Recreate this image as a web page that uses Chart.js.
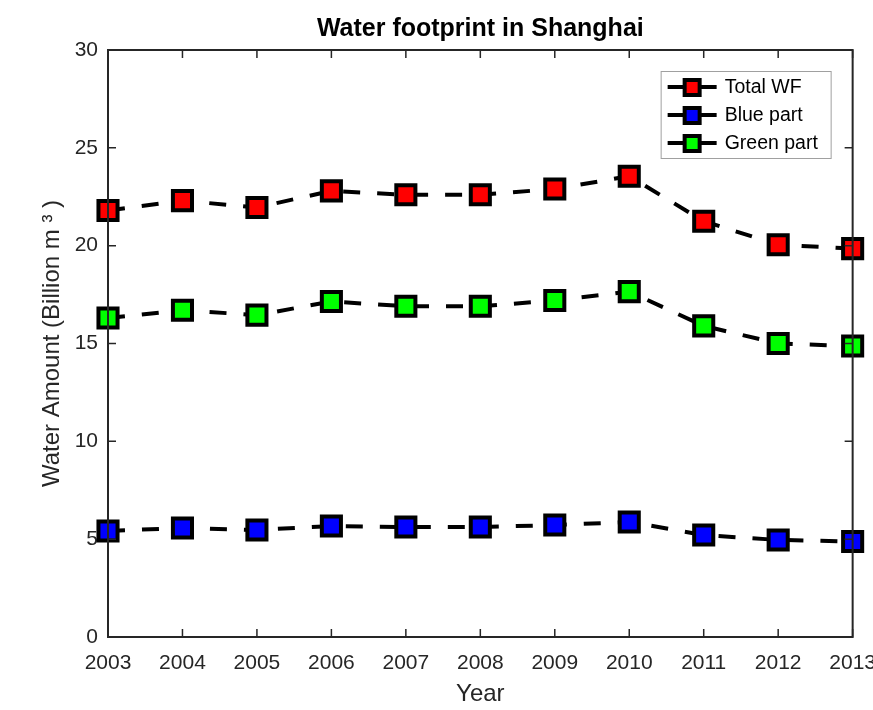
<!DOCTYPE html>
<html>
<head>
<meta charset="utf-8">
<script src="https://cdn.jsdelivr.net/npm/chart.js"></script>
<style>
  html, body { margin: 0; padding: 0; background: #fff; overflow: hidden; }
  #wrap { width: 873px; height: 710px; overflow: hidden; }
</style>
</head>
<body>
<div id="wrap"><canvas id="chart" width="890" height="710" style="width:890px;height:710px"></canvas></div>
<script>
// data
const years = ['2003', '2004', '2005', '2006', '2007', '2008', '2009', '2010', '2011', '2012', '2013'];
const totalWF = [21.8, 22.3, 21.95, 22.8, 22.6, 22.6, 22.9, 23.55, 21.25, 20.05, 19.85];
const bluePart = [5.42, 5.57, 5.47, 5.67, 5.62, 5.62, 5.72, 5.88, 5.21, 4.96, 4.88];
const greenPart = [16.3, 16.7, 16.45, 17.15, 16.9, 16.9, 17.2, 17.65, 15.9, 15.0, 14.87];
const yTicks = [0, 5, 10, 15, 20, 25, 30];

const seriesLabels = ['Total WF', 'Blue part', 'Green part'];
const seriesColors = ['#ff0000', '#0000ff', '#00ff00'];

const TICK = 8;

// MATLAB-like box with inward ticks on all sides
const boxPlugin = {
  id: 'box',
  afterDatasetsDraw(chart) {
    const { ctx, chartArea: a, scales } = chart;
    ctx.save();
    ctx.strokeStyle = '#262626';
    ctx.lineWidth = 1.5;
    ctx.beginPath();
    scales.x.ticks.forEach((t, i) => {
      const px = scales.x.getPixelForTick(i);
      ctx.moveTo(px, a.bottom); ctx.lineTo(px, a.bottom - TICK);
      ctx.moveTo(px, a.top); ctx.lineTo(px, a.top + TICK);
    });
    scales.y.ticks.forEach(t => {
      const py = scales.y.getPixelForValue(t.value);
      ctx.moveTo(a.left, py); ctx.lineTo(a.left + TICK, py);
      ctx.moveTo(a.right, py); ctx.lineTo(a.right - TICK, py);
    });
    ctx.stroke();
    ctx.lineWidth = 2;
    ctx.strokeRect(a.left, a.top, a.right - a.left, a.bottom - a.top);
    ctx.restore();
  },
  afterDraw(chart) {
    // legend inside the plot, top right
    const { ctx, chartArea: a } = chart;
    const w = 170, h = 87;
    const x0 = a.right - 22 - w, y0 = a.top + 21;
    ctx.save();
    ctx.fillStyle = '#fff';
    ctx.fillRect(x0, y0, w, h);
    ctx.strokeStyle = '#a0a0a0';
    ctx.lineWidth = 1;
    ctx.strokeRect(x0 + 0.5, y0 + 0.5, w, h);
    chart.data.datasets.forEach((ds, i) => {
      const cy = y0 + 16 + i * 28;
      ctx.strokeStyle = '#000';
      ctx.lineWidth = 4;
      ctx.setLineDash([]);
      ctx.beginPath();
      ctx.moveTo(x0 + 7, cy); ctx.lineTo(x0 + 56, cy);
      ctx.stroke();
      ctx.fillStyle = ds.pointBackgroundColor;
      ctx.lineWidth = 4;
      ctx.fillRect(x0 + 24, cy - 7, 15, 15);
      ctx.strokeRect(x0 + 24, cy - 7, 15, 15);
      ctx.fillStyle = '#000';
      ctx.font = '19.5px "Liberation Sans", Arial, sans-serif';
      ctx.textBaseline = 'middle';
      ctx.fillText(ds.label, x0 + 64, cy + 1);
    });
    ctx.restore();
  }
};

function makeSet(label, values, color) {
  return {
    label: label,
    data: values,
    borderColor: '#000',
    borderWidth: 4,
    borderDash: [17, 17],
    pointStyle: 'rect',
    pointRadius: 13.5,
    pointHoverRadius: 13.5,
    pointBorderWidth: 4,
    pointBorderColor: '#000',
    pointBackgroundColor: color,
    tension: 0,
    fill: false
  };
}

Chart.defaults.font.family = '"Liberation Sans", Arial, sans-serif';
Chart.defaults.color = '#262626';

new Chart(document.getElementById('chart').getContext('2d'), {
  type: 'line',
  data: {
    labels: years,
    datasets: [
      makeSet(seriesLabels[0], totalWF, seriesColors[0]),
      makeSet(seriesLabels[1], bluePart, seriesColors[1]),
      makeSet(seriesLabels[2], greenPart, seriesColors[2])
    ]
  },
  options: {
    responsive: false,
    animation: false,
    events: [],
    layout: { padding: { top: 10, right: 0, left: 34, bottom: 0 } },
    plugins: {
      legend: { display: false },
      tooltip: { enabled: false },
      title: {
        display: true,
        fullSize: false,
        text: 'Water footprint in Shanghai',
        color: '#000',
        font: { size: 25, weight: 'bold' },
        padding: { top: 4, bottom: 6 }
      }
    },
    scales: {
      x: {
        type: 'category',
        offset: false,
        grid: { display: false, drawTicks: false },
        border: { display: false },
        ticks: { font: { size: 21 }, padding: 14, maxRotation: 0, autoSkip: false },
        title: { display: true, text: 'Year', font: { size: 24 }, padding: { top: 2, bottom: 1 } },
        afterFit(scale) { scale.height = 73; }
      },
      y: {
        min: 0,
        max: 30,
        afterBuildTicks(scale) { scale.ticks = yTicks.map(v => ({ value: v })); },
        grid: { display: false, drawTicks: false },
        border: { display: false },
        ticks: { font: { size: 21 }, padding: 10 },
        title: { display: true, text: 'Water Amount (Billion m \u00b3 )', font: { size: 24 }, padding: { bottom: 4 } },
        afterFit(scale) { scale.width = 74; }
      }
    }
  },
  plugins: [boxPlugin]
});
</script>
</body>
</html>
